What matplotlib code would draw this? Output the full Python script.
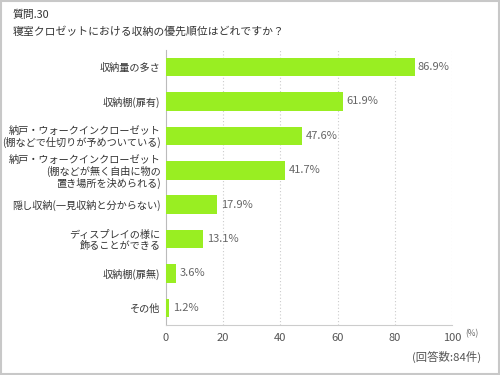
import matplotlib
matplotlib.use("Agg")
import matplotlib.pyplot as plt
from matplotlib.patches import Rectangle

plt.rcParams['font.family'] = ['Noto Sans CJK JP', 'DejaVu Sans']

title_lines = ["質問.30", "寝室クロゼットにおける収納の優先順位はどれですか？"]
categories = [
    "収納量の多さ",
    "収納棚(扉有)",
    "納戸・ウォークインクローゼット\n(棚などで仕切りが予めついている)",
    "納戸・ウォークインクローゼット\n(棚などが無く自由に物の\n置き場所を決められる)",
    "隠し収納(一見収納と分からない)",
    "ディスプレイの様に\n飾ることができる",
    "収納棚(扉無)",
    "その他",
]
values = [86.9, 61.9, 47.6, 41.7, 17.9, 13.1, 3.6, 1.2]
xticks = [0, 20, 40, 60, 80, 100]
note = "(回答数:84件)"

fig = plt.figure(figsize=(5, 3.75), dpi=100)
fig.patches.append(Rectangle((0.002, 0.003), 0.996, 0.994, transform=fig.transFigure,
                             fill=False, edgecolor='#c8c8c8', linewidth=1.5))
ax = fig.add_axes([0.332, 0.1333, 0.572, 0.7337])

y = list(range(len(values)))
ax.barh(y, values, height=0.54, color='#99ee22', zorder=3)
ax.set_ylim(len(values) - 0.5, -0.5)
ax.set_xlim(0, 100)
ax.set_yticks(y)
ax.set_yticklabels(categories, fontsize=7.3, color='#333333', linespacing=1.1)
ax.set_xticks(xticks)
ax.set_xticklabels([str(t) for t in xticks], fontsize=8, color='#555555')
ax.tick_params(axis='both', length=0, pad=4)
ax.tick_params(axis='x', pad=6)
for t in xticks[1:]:
    ax.axvline(t, color='#cccccc', linestyle=(0, (1, 2)), linewidth=0.8, zorder=1)
for s in ['top', 'right']:
    ax.spines[s].set_visible(False)
ax.spines['left'].set_color('#bbbbbb')
ax.spines['bottom'].set_color('#cccccc')

for yi, v in zip(y, values):
    ax.text(v + 1.2, yi, f"{v}%", va='center', ha='left', fontsize=8, color='#666666')

fig.text(0.026, 1 - 15 / 375, title_lines[0], fontsize=7.8, color='#333333', va='center', ha='left')
fig.text(0.026, 1 - 31 / 375, title_lines[1], fontsize=7.8, color='#333333', va='center', ha='left')
fig.text(0.93, 1 - 334 / 375, "(%)", fontsize=6, color='#666666', va='center', ha='left')
fig.text(0.962, 1 - 357 / 375, note, fontsize=8.2, color='#555555', va='center', ha='right')

fig.savefig("out.png", dpi=100)
